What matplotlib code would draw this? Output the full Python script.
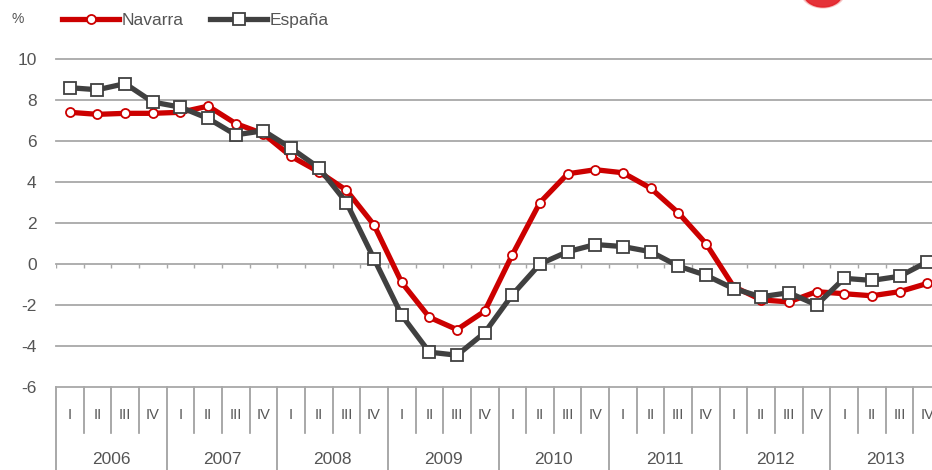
import matplotlib
matplotlib.use("Agg")
import matplotlib.pyplot as plt
import matplotlib.transforms as mtransforms
from matplotlib.patches import Ellipse

plt.rcParams['font.family'] = ['Liberation Sans', 'DejaVu Sans']

years = ["2006", "2007", "2008", "2009", "2010", "2011", "2012", "2013"]
quarters = ["I", "II", "III", "IV"]

navarra = [7.4, 7.3, 7.35, 7.35,
           7.4, 7.7, 6.85, 6.35,
           5.25, 4.5, 3.6, 1.9,
           -0.9, -2.6, -3.2, -2.3,
           0.45, 3.0, 4.4, 4.6,
           4.45, 3.7, 2.5, 1.0,
           -1.1, -1.75, -1.85, -1.35,
           -1.45, -1.55, -1.35, -0.95]
espana = [8.6, 8.5, 8.8, 7.9,
          7.65, 7.1, 6.3, 6.5,
          5.65, 4.7, 3.0, 0.25,
          -2.5, -4.3, -4.45, -3.35,
          -1.5, 0.0, 0.6, 0.95,
          0.85, 0.6, -0.1, -0.55,
          -1.2, -1.6, -1.4, -2.0,
          -0.7, -0.8, -0.6, 0.1]
yticks = [-6, -4, -2, 0, 2, 4, 6, 8, 10]

W, H = 932, 470
fig = plt.figure(figsize=(W / 100, H / 100), dpi=100)
fig.patch.set_facecolor("white")

left_px, right_px, top_px, bot_px = 56, 941, 59, 387
ax = fig.add_axes([left_px / W, (H - bot_px) / H, (right_px - left_px) / W, (bot_px - top_px) / H])

n = len(navarra)
x = list(range(n))
red = "#cc0000"
gray = "#404040"
gridc = "#a8a8a8"
txtc = "#555555"

for yv in yticks[1:]:
    ax.axhline(yv, color=gridc, lw=1.3, clip_on=False, zorder=1)

ax.plot(x, navarra, color=red, lw=3.8, marker="o", ms=6.5, mfc="white", mec=red, mew=1.3,
        label="Navarra", zorder=3, solid_joinstyle="round")
ax.plot(x, espana, color=gray, lw=3.8, marker="s", ms=8.5, mfc="white", mec=gray, mew=1.3,
        label="España", zorder=4, solid_joinstyle="round")

ax.set_xlim(-0.5, n - 0.5)
ax.set_ylim(-6, 10)
ax.set_yticks(yticks)
ax.set_yticklabels([str(v) for v in yticks], fontsize=12.5, color=txtc)
ax.tick_params(axis="y", length=0, pad=14)
ax.set_xticks([])
for s in ["top", "right", "left"]:
    ax.spines[s].set_visible(False)
ax.spines["bottom"].set_color(gridc)
ax.spines["bottom"].set_linewidth(1.3)

# small ticks on the zero line at quarter boundaries
bounds = [i - 0.5 for i in range(n + 1)]
ax.vlines(bounds, -0.2, 0, color=gridc, lw=1.0, zorder=1)

# category table below the axes
trans = mtransforms.blended_transform_factory(ax.transData, ax.transAxes)
ph = bot_px - top_px
q_bottom = -(433 - bot_px) / ph
y_bottom = -(472 - bot_px) / ph
for i, b in enumerate(bounds):
    if i % 4 == 0:
        ax.plot([b, b], [0, y_bottom], transform=trans, color="#999999", lw=1.2, clip_on=False)
    else:
        ax.plot([b, b], [0, q_bottom], transform=trans, color="#999999", lw=1.2, clip_on=False)
for i in range(n):
    ax.text(i, -(415 - bot_px) / ph, quarters[i % 4], transform=trans, ha="center", va="center",
            fontsize=10.5, color=txtc)
for j, yr in enumerate(years):
    ax.text(j * 4 + 1.5, -(460 - bot_px) / ph, yr, transform=trans, ha="center", va="center",
            fontsize=12.5, color=txtc)

# percent sign and legend
fig.text(18 / W, 1 - 19 / H, "%", fontsize=10, color=txtc, ha="center", va="center")
leg = fig.legend(loc="center left", bbox_to_anchor=(62 / W, 1 - 20 / H), ncol=2, frameon=False,
                 fontsize=12.5, handlelength=3.3, handletextpad=0.15, columnspacing=1.5,
                 borderpad=0, borderaxespad=0)
for t in leg.get_texts():
    t.set_color(txtc)

# partial logo at top right (cropped in the reference)
logo_ax = fig.add_axes([0, 0, 1, 1], facecolor="none")
logo_ax.set_xlim(0, W)
logo_ax.set_ylim(H, 0)
logo_ax.axis("off")
logo_ax.add_patch(Ellipse((823, -10), 46, 36, color="#f3a0a0", alpha=0.5))
logo_ax.add_patch(Ellipse((823, -8), 40, 30, color="#e32028", alpha=0.9))

fig.savefig("out.png", dpi=100)
